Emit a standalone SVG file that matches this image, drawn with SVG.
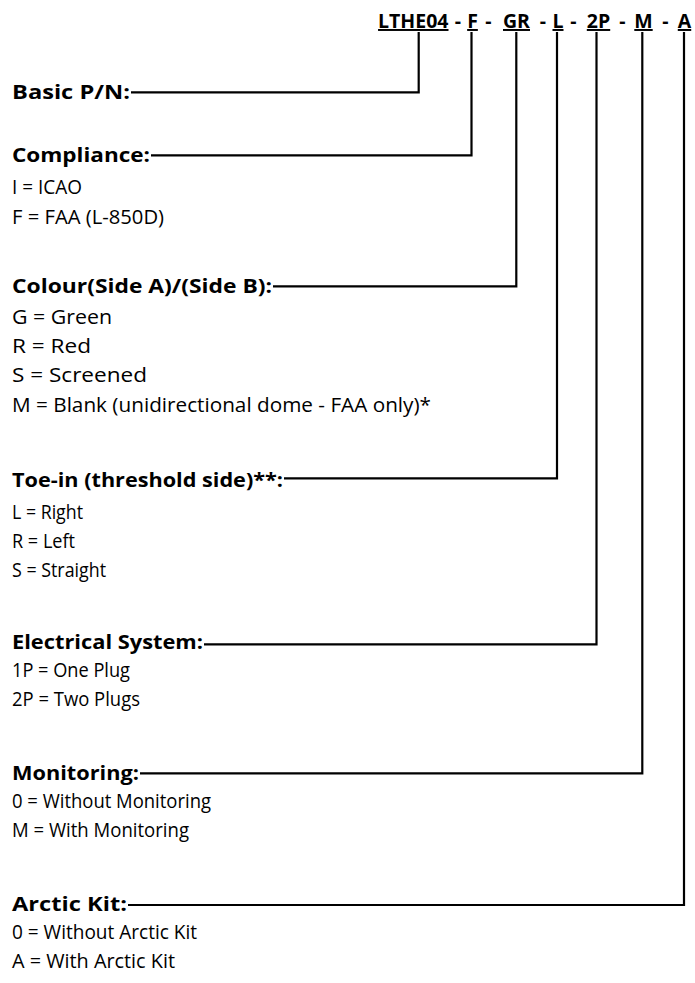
<svg xmlns="http://www.w3.org/2000/svg" width="695" height="983" viewBox="0 0 695 983">
<style>
text{font-family:"Open Sans","Liberation Sans",sans-serif;font-size:20px;fill:#000}
.h{font-weight:bold;font-size:19.5px}
.t{font-weight:bold;font-size:19.5px;text-anchor:middle}
.u{text-decoration:underline}
.c{fill:none;stroke:#000;stroke-width:2.2;stroke-linejoin:miter}
</style>
<rect width="695" height="983" fill="#fff"/>
<g id="title">
<text class="t" y="28"><tspan class="u" x="448.5" text-anchor="end">LTHE04</tspan><tspan x="458"> - </tspan><tspan class="u" x="472.5">F</tspan><tspan x="488.5"> - </tspan><tspan class="u" x="516.5">GR</tspan><tspan x="543"> - </tspan><tspan class="u" x="558">L</tspan><tspan x="573.5"> - </tspan><tspan class="u" x="598.5">2P</tspan><tspan x="622.5"> - </tspan><tspan class="u" x="643.5">M</tspan><tspan x="665.5"> - </tspan><tspan class="u" x="684.5">A</tspan></text>
</g>
<g id="connectors">
<path class="c" d="M131,92.3H418.7V32"/>
<path class="c" d="M151,155.3H471.5V32"/>
<path class="c" d="M273,286.3H516.3V32"/>
<path class="c" d="M284,478.3H557V32"/>
<path class="c" d="M204,644.3H596.5V32"/>
<path class="c" d="M140,773.3H642.3V32"/>
<path class="c" d="M128,905H684V32"/>
</g>
<g id="basic">
<text class="h" x="12" y="99" textLength="118" lengthAdjust="spacingAndGlyphs">Basic P/N:</text>
</g>
<g id="compliance">
<text class="h" x="12" y="162" textLength="138" lengthAdjust="spacingAndGlyphs">Compliance:</text>
<text x="12" y="194" textLength="70" lengthAdjust="spacingAndGlyphs">I = ICAO</text>
<text x="12" y="224" textLength="152" lengthAdjust="spacingAndGlyphs">F = FAA (L-850D)</text>
</g>
<g id="colour">
<text class="h" x="12" y="293" textLength="260" lengthAdjust="spacingAndGlyphs">Colour(Side A)/(Side B):</text>
<text x="12" y="324" textLength="100" lengthAdjust="spacingAndGlyphs">G = Green</text>
<text x="12" y="353" textLength="79" lengthAdjust="spacingAndGlyphs">R = Red</text>
<text x="12" y="382" textLength="135" lengthAdjust="spacingAndGlyphs">S = Screened</text>
<text x="12" y="412" textLength="419" lengthAdjust="spacingAndGlyphs">M = Blank (unidirectional dome - FAA only)*</text>
</g>
<g id="toein">
<text class="h" x="12" y="487" textLength="271" lengthAdjust="spacingAndGlyphs">Toe-in (threshold side)**:</text>
<text x="12" y="519" textLength="71" lengthAdjust="spacingAndGlyphs">L = Right</text>
<text x="12" y="548" textLength="63" lengthAdjust="spacingAndGlyphs">R = Left</text>
<text x="12" y="577" textLength="94" lengthAdjust="spacingAndGlyphs">S = Straight</text>
</g>
<g id="electrical">
<text class="h" x="12" y="649" textLength="191" lengthAdjust="spacingAndGlyphs">Electrical System:</text>
<text x="12" y="677" textLength="118" lengthAdjust="spacingAndGlyphs">1P = One Plug</text>
<text x="12" y="706" textLength="128" lengthAdjust="spacingAndGlyphs">2P = Two Plugs</text>
</g>
<g id="monitoring">
<text class="h" x="12" y="780" textLength="127" lengthAdjust="spacingAndGlyphs">Monitoring:</text>
<text x="12" y="808" textLength="199" lengthAdjust="spacingAndGlyphs">0 = Without Monitoring</text>
<text x="12" y="837" textLength="177" lengthAdjust="spacingAndGlyphs">M = With Monitoring</text>
</g>
<g id="arctic">
<text class="h" x="12" y="911" textLength="115" lengthAdjust="spacingAndGlyphs">Arctic Kit:</text>
<text x="12" y="939" textLength="185" lengthAdjust="spacingAndGlyphs">0 = Without Arctic Kit</text>
<text x="12" y="968" textLength="163" lengthAdjust="spacingAndGlyphs">A = With Arctic Kit</text>
</g>
</svg>
